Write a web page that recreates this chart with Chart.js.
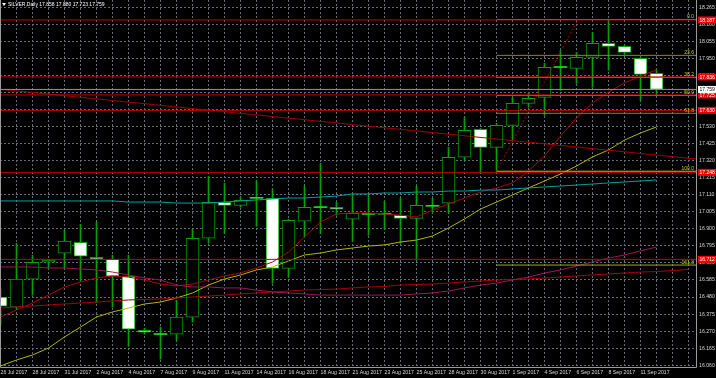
<!DOCTYPE html>
<html><head><meta charset="utf-8">
<script src="https://cdn.jsdelivr.net/npm/chart.js@4/dist/chart.umd.min.js"></script>
<style>html,body{margin:0;padding:0;background:#000;overflow:hidden}</style>
</head><body>
<canvas id="c" width="716" height="378"></canvas>
<script>
// ---------- DATA ----------
const chartTitle = 'SILVER,Daily 17.858 17.880 17.723 17.759';
const dates = ['26 Jul 2017','27 Jul 2017','28 Jul 2017','30 Jul 2017','31 Jul 2017','1 Aug 2017','2 Aug 2017','3 Aug 2017','4 Aug 2017','6 Aug 2017',
 '7 Aug 2017','8 Aug 2017','9 Aug 2017','10 Aug 2017','11 Aug 2017','13 Aug 2017','14 Aug 2017','15 Aug 2017','16 Aug 2017','17 Aug 2017',
 '18 Aug 2017','20 Aug 2017','21 Aug 2017','22 Aug 2017','23 Aug 2017','24 Aug 2017','25 Aug 2017','27 Aug 2017','28 Aug 2017','29 Aug 2017',
 '30 Aug 2017','31 Aug 2017','1 Sep 2017','3 Sep 2017','4 Sep 2017','5 Sep 2017','6 Sep 2017','7 Sep 2017','8 Sep 2017','10 Sep 2017',
 '11 Sep 2017','12 Sep 2017'];
const opens  = [16.479,16.417,16.590,16.694,16.750,16.817,16.725,16.713,16.608,16.275,16.251,16.251,16.356,16.842,17.064,17.045,17.090,17.088,16.657,16.947,17.033,17.033,16.959,16.990,16.990,16.984,16.965,17.039,17.058,17.341,17.513,17.402,17.538,17.673,17.710,17.895,17.889,17.957,18.043,18.024,17.950,17.858];
const highs  = [16.534,16.811,16.737,16.713,16.891,16.928,16.941,16.737,16.737,16.288,16.294,16.460,16.897,17.224,17.181,17.095,17.199,17.144,16.960,17.162,17.304,17.063,17.107,17.107,17.070,17.088,17.162,17.088,17.402,17.587,17.519,17.550,17.710,17.735,17.920,17.999,17.987,18.111,18.190,18.030,17.957,17.880];
const lows   = [16.306,16.405,16.491,16.657,16.657,16.583,16.448,16.417,16.177,16.251,16.097,16.214,16.325,16.811,16.873,17.033,16.916,16.565,16.602,16.854,16.873,16.984,16.824,16.860,16.897,16.811,16.707,17.002,16.996,17.322,17.248,17.255,17.445,17.649,17.599,17.753,17.796,17.772,17.877,17.975,17.692,17.723];
const closes = [16.423,16.590,16.694,16.707,16.824,16.731,16.713,16.608,16.282,16.263,16.249,16.356,16.842,17.064,17.045,17.076,17.088,16.657,16.953,17.033,17.031,17.021,16.996,16.989,16.991,16.965,17.045,17.040,17.341,17.507,17.402,17.538,17.673,17.704,17.895,17.894,17.957,18.043,18.024,17.987,17.852,17.759];

const maRedFast = [16.357,16.400,16.443,16.492,16.542,16.573,16.597,16.610,16.603,16.585,16.560,16.548,16.560,16.585,16.610,16.628,16.659,16.696,16.757,16.850,16.942,16.992,16.998,16.998,16.992,16.985,16.973,17.016,17.053,17.090,17.127,17.152,17.183,17.256,17.349,17.472,17.583,17.675,17.743,17.799,17.842,17.879];
const maYellow  = [16.055,16.092,16.123,16.166,16.234,16.295,16.357,16.388,16.412,16.437,16.449,16.474,16.505,16.554,16.591,16.616,16.647,16.665,16.702,16.739,16.751,16.770,16.782,16.794,16.801,16.819,16.831,16.856,16.905,16.961,17.022,17.065,17.109,17.152,17.195,17.238,17.287,17.343,17.386,17.447,17.491,17.528];
const maTeal    = [17.072,17.072,17.072,17.072,17.072,17.072,17.072,17.072,17.065,17.065,17.065,17.059,17.059,17.059,17.065,17.072,17.078,17.084,17.090,17.090,17.096,17.102,17.115,17.115,17.121,17.121,17.127,17.127,17.133,17.133,17.139,17.139,17.146,17.152,17.158,17.164,17.170,17.176,17.183,17.189,17.195,17.201];
const maMagenta = [16.665,16.665,16.665,16.659,16.659,16.653,16.647,16.634,16.616,16.597,16.585,16.554,16.542,16.542,16.536,16.536,16.523,16.511,16.505,16.499,16.492,16.492,16.492,16.492,16.492,16.492,16.499,16.505,16.517,16.536,16.554,16.566,16.585,16.603,16.628,16.647,16.671,16.696,16.720,16.739,16.764,16.788];
const maRedSlow = [16.412,16.419,16.425,16.431,16.437,16.443,16.449,16.455,16.462,16.465,16.468,16.474,16.480,16.486,16.492,16.499,16.505,16.511,16.517,16.523,16.526,16.529,16.536,16.542,16.545,16.554,16.557,16.560,16.566,16.573,16.579,16.585,16.588,16.591,16.597,16.603,16.610,16.616,16.622,16.628,16.634,16.637,16.643,16.650];

const levelPrices = [18.187,17.836,17.725,17.630,17.248,16.712];
const levelLabels = ['18.187','17.836','17.725','17.630','17.248','16.712'];
const bidPrice = 17.759, bidLabel = '17.759';

const fibNames  = ['0.0','23.6','38.2','50.0','61.8','100.0','161.8'];
const fibPrices = [18.190,17.969,17.833,17.722,17.612,17.255,16.677];
const fibColors = ['#a8a800','#8c8c00','#e07800','#e07800','#8c8c00','#d0d000','#a8a800'];
const fibStartBar = 31, fibAnchorBars = [31, 36.1], fibAnchorPrices = [17.255, 18.190];
const trendBars = [0, 43.5], trendPrices = [17.760, 17.330];

const yTicks = [16.060,16.165,16.270,16.375,16.480,16.585,16.690,16.795,16.900,17.005,17.110,17.215,17.320,17.425,17.530,17.635,17.740,17.845,17.950,18.055,18.160,18.265];
const yTickLabels = ['16.060','16.165','16.270','16.375','16.480','16.585','16.690','16.795','16.900','17.005','17.110','17.215','17.320','17.425','17.530','17.635','17.740','17.845','17.950','18.055','18.160','18.265'];
const xTickBars = [0,1,2,3,4,5,6,7,8,9,10,11,12,13,14,15,16,17,18,19,20,21,22,23,24,25,26,27,28,29,30,31,32,33,34,35,36,37,38,39,40,41,42,43];

// ---------- STYLE ----------
const GREEN = '#00a400', DOJI = '#22dd22', GRID = '#626c78', FONT = 'Liberation Sans';
const X_MIN = -0.03125, X_MAX = 43.46875, Y_MIN = 16.0489, Y_MAX = 18.31;

const isDoji = i => Math.abs(opens[i] - closes[i]) < 0.004;
const lineDs = (pts, color, extra) => Object.assign({
  type: 'line', data: pts, borderColor: color, borderWidth: 1, pointRadius: 0,
  tension: 0, fill: false, order: 0, spanGaps: true
}, extra || {});
const series = (vals) => vals.map((v, i) => ({x: i, y: v}));
const hPts = (p, from) => [{x: from, y: p}, {x: X_MAX + 2, y: p}];

const datasets = [];
levelPrices.forEach(p => datasets.push(lineDs(hPts(p, X_MIN - 2), '#c40000')));
datasets.push(lineDs(hPts(bidPrice, X_MIN - 2), '#8a96a4'));
fibPrices.forEach((p, k) => datasets.push(lineDs(hPts(p, fibStartBar), fibColors[k])));
datasets.push(lineDs([{x: fibAnchorBars[0], y: fibAnchorPrices[0]}, {x: fibAnchorBars[1], y: fibAnchorPrices[1]}], '#b00000', {borderDash: [2, 2]}));
datasets.push(lineDs([{x: trendBars[0], y: trendPrices[0]}, {x: trendBars[1], y: trendPrices[1]}], '#a00000'));
datasets.push(lineDs(series(maTeal), '#00a0a0'));
datasets.push(lineDs(series(maMagenta), '#a0145a'));
datasets.push(lineDs(series(maRedSlow), '#a80000'));
datasets.push(lineDs(series(maYellow), '#b4b400'));
datasets.push(lineDs(series(maRedFast), '#b00000'));
datasets.push({
  type: 'bar', order: 1, grouped: false, barThickness: 13, minBarLength: 1, borderSkipped: false,
  data: dates.map((d, i) => ({x: i, y: [opens[i], closes[i]]})),
  backgroundColor: dates.map((d, i) => isDoji(i) ? DOJI : (closes[i] > opens[i] ? '#000000' : '#ffffff')),
  borderColor: GREEN,
  borderWidth: dates.map((d, i) => isDoji(i) ? 0 : 1)
});
datasets.push({
  type: 'bar', order: 2, grouped: false, barThickness: 1, borderWidth: 0,
  data: dates.map((d, i) => ({x: i, y: [lows[i], highs[i]]})),
  backgroundColor: GREEN
});

const overlay = {
  id: 'overlay',
  beforeDraw(chart) {
    const c = chart.ctx; c.save(); c.fillStyle = '#000'; c.fillRect(0, 0, chart.width, chart.height); c.restore();
  },
  afterDraw(chart) {
    const c = chart.ctx, a = chart.chartArea, y = chart.scales.y;
    c.save();
    c.strokeStyle = '#9a9a9a'; c.lineWidth = 1; c.setLineDash([]);
    c.beginPath();
    c.moveTo(a.left + 0.5, a.top); c.lineTo(a.left + 0.5, a.bottom + 0.5);
    c.lineTo(a.right + 0.5, a.bottom + 0.5); c.lineTo(a.right + 0.5, a.top);
    c.stroke();
    c.fillStyle = '#ffffff';
    c.beginPath(); c.moveTo(2, 3); c.lineTo(6, 3); c.lineTo(4, 6); c.closePath(); c.fill();
    c.font = '5px "' + FONT + '"'; c.textBaseline = 'middle'; c.textAlign = 'left';
    c.fillText(chartTitle, 8, 4.5);
    c.textAlign = 'right'; c.textBaseline = 'alphabetic';
    fibPrices.forEach((p, k) => { c.fillStyle = '#c8c800'; c.fillText(fibNames[k], 694, y.getPixelForValue(p) - 1.5); });
    c.textAlign = 'left'; c.textBaseline = 'middle';
    levelPrices.forEach((p, k) => {
      const py = y.getPixelForValue(p);
      c.fillStyle = '#f00000'; c.fillRect(698, py - 3.5, 18, 7);
      c.fillStyle = '#ffffff'; c.fillText(levelLabels[k], 699.5, py + 0.3);
    });
    const by = y.getPixelForValue(bidPrice);
    c.fillStyle = '#ffffff'; c.fillRect(698, by - 3.5, 18, 7);
    c.fillStyle = '#000000'; c.fillText(bidLabel, 699.5, by + 0.3);
    c.restore();
  }
};

new Chart(document.getElementById('c'), {
  type: 'bar',
  data: {datasets},
  plugins: [overlay],
  options: {
    responsive: false, animation: false, devicePixelRatio: 1,
    layout: {padding: 0},
    plugins: {legend: {display: false}, tooltip: {enabled: false}, title: {display: false}},
    scales: {
      x: {
        type: 'linear', min: X_MIN, max: X_MAX, bounds: 'data', offset: false, position: 'bottom',
        afterBuildTicks: s => { s.ticks = xTickBars.map(v => ({value: v})); },
        afterFit: s => { s.height = 11; s.paddingLeft = 0; s.paddingRight = 0; s.paddingTop = 0; s.paddingBottom = 0; },
        grid: {color: GRID, lineWidth: 1, drawTicks: false, offset: false, borderDash: [2, 2]},
        border: {display: false, dash: [2, 2]},
        ticks: {autoSkip: false, maxRotation: 0, minRotation: 0, align: 'start', padding: 2,
          color: '#d6d6d6', font: {family: FONT, size: 5.2},
          callback: (v) => (v % 2 === 0 && dates[v]) ? dates[v] : ''}
      },
      y: {
        type: 'linear', min: Y_MIN, max: Y_MAX, position: 'right', bounds: 'data',
        afterBuildTicks: s => { s.ticks = yTicks.map(v => ({value: v})); },
        afterFit: s => { s.width = 20; s.paddingTop = 0; s.paddingBottom = 0; s.paddingLeft = 0; s.paddingRight = 0; },
        grid: {color: GRID, lineWidth: 1, drawTicks: false, borderDash: [2, 2]},
        border: {display: false, dash: [2, 2]},
        ticks: {padding: 3, color: '#d6d6d6', font: {family: FONT, size: 5.2},
          callback: (v, i) => yTickLabels[i]}
      }
    }
  }
});
</script>
</body></html>
